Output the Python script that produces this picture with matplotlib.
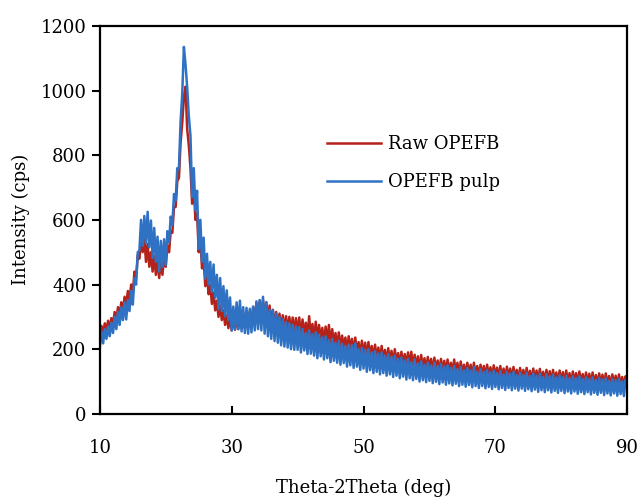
import numpy as np
import matplotlib
matplotlib.use("Agg")
import matplotlib.pyplot as plt

plt.rcParams['font.family'] = ['DejaVu Serif']

two_theta = np.linspace(10, 90, 321)

raw_opefb = [
    238, 272, 248, 280, 255, 288, 262, 296,
    278, 315, 290, 330, 302, 345, 318, 362,
    335, 380, 350, 400, 372, 440, 420, 490,
    480, 540, 500, 545, 470, 525, 455, 500,
    440, 488, 430, 478, 420, 470, 430, 488,
    455, 520, 500, 565, 560, 640, 640, 720,
    730, 840, 900, 980, 1012, 880, 830, 760,
    650, 700, 600, 620, 500, 540, 450, 470,
    395, 430, 370, 400, 340, 375, 320, 350,
    300, 335, 290, 320, 275, 305, 265, 300,
    258, 298, 260, 300, 262, 302, 265, 305,
    265, 310, 272, 318, 280, 330, 292, 342,
    300, 350, 305, 352, 300, 345, 290, 335,
    278, 322, 270, 315, 262, 310, 258, 305,
    255, 302, 252, 300, 250, 298, 248, 296,
    246, 298, 238, 292, 244, 282, 232, 302,
    235, 278, 228, 285, 224, 275, 230, 266,
    218, 270, 222, 275, 210, 262, 214, 250,
    205, 252, 200, 242, 204, 236, 192, 240,
    195, 232, 185, 236, 188, 222, 178, 226,
    182, 220, 172, 222, 176, 210, 166, 214,
    170, 205, 160, 210, 165, 198, 156, 203,
    160, 195, 150, 200, 155, 188, 147, 192,
    150, 185, 143, 190, 147, 192, 139, 183,
    142, 178, 135, 182, 139, 172, 132, 176,
    136, 170, 129, 174, 133, 165, 126, 170,
    130, 164, 123, 168, 127, 158, 121, 168,
    124, 158, 118, 162, 122, 152, 116, 158,
    120, 152, 113, 158, 118, 148, 112, 152,
    116, 148, 109, 152, 114, 144, 108, 150,
    112, 143, 106, 148, 110, 140, 104, 146,
    109, 140, 103, 145, 107, 136, 101, 142,
    106, 136, 100, 142, 104, 133, 98, 140,
    103, 134, 97, 139, 101, 130, 96, 136,
    100, 132, 95, 136, 98, 128, 93, 134,
    98, 129, 92, 134, 96, 126, 91, 131,
    96, 126, 90, 131, 94, 123, 89, 128,
    93, 124, 87, 128, 91, 120, 86, 125,
    91, 121, 85, 125, 89, 117, 84, 122,
    89, 118, 82, 122, 87, 114, 81, 116,
    100,
]

opefb_pulp = [
    205, 255, 218, 262, 232, 270, 240, 282,
    250, 300, 262, 315, 275, 330, 290, 345,
    292, 352, 318, 380, 338, 420, 400, 500,
    505, 600, 520, 612, 528, 625, 515, 598,
    482, 575, 470, 548, 440, 535, 455, 540,
    460, 565, 530, 610, 585, 680, 660, 760,
    760, 905, 990, 1135, 1080, 1010, 920, 860,
    670, 760, 630, 690, 510, 600, 470, 545,
    418, 495, 400, 470, 378, 462, 360, 430,
    325, 420, 318, 395, 302, 382, 290, 360,
    258, 332, 262, 345, 262, 350, 255, 330,
    250, 328, 248, 325, 252, 332, 258, 348,
    262, 352, 258, 362, 248, 345, 240, 322,
    232, 320, 225, 310, 220, 300, 212, 292,
    208, 284, 205, 280, 200, 275, 198, 270,
    198, 268, 190, 262, 196, 250, 185, 258,
    186, 246, 180, 252, 172, 245, 178, 236,
    168, 240, 172, 228, 160, 232, 164, 220,
    158, 226, 152, 216, 157, 210, 146, 214,
    150, 212, 142, 218, 146, 200, 136, 204,
    140, 198, 130, 200, 135, 190, 126, 194,
    130, 186, 122, 190, 126, 180, 118, 185,
    122, 176, 114, 180, 118, 170, 110, 174,
    115, 165, 106, 170, 110, 160, 104, 168,
    108, 156, 100, 162, 104, 152, 98, 158,
    102, 150, 95, 158, 99, 148, 92, 154,
    97, 146, 90, 150, 94, 142, 88, 148,
    93, 138, 86, 145, 90, 134, 84, 142,
    89, 134, 82, 145, 86, 130, 80, 138,
    86, 130, 79, 136, 83, 128, 77, 134,
    83, 126, 76, 132, 80, 122, 74, 130,
    80, 124, 73, 130, 78, 120, 72, 127,
    78, 120, 71, 127, 76, 117, 70, 125,
    75, 118, 68, 124, 73, 114, 67, 122,
    73, 116, 66, 121, 71, 112, 65, 119,
    71, 113, 64, 118, 69, 110, 63, 116,
    69, 110, 62, 116, 67, 107, 61, 113,
    67, 108, 60, 113, 65, 105, 59, 111,
    65, 106, 58, 110, 63, 102, 57, 108,
    63, 104, 56, 108, 61, 100, 55, 105,
    85,
]

series_names = ["Raw OPEFB", "OPEFB pulp"]
x_ticks = [10, 30, 50, 70, 90]
y_ticks = [0, 200, 400, 600, 800, 1000, 1200]

fig = plt.figure(figsize=(6.4, 4.98), dpi=100)
ax = fig.add_axes([0.156, 0.169, 0.824, 0.779])

ax.plot(two_theta, raw_opefb, color='#B52219', lw=1.8, label=series_names[0])
ax.plot(two_theta, opefb_pulp, color='#2F72C4', lw=1.8, label=series_names[1])

ax.set_xlim(10, 90)
ax.set_ylim(0, 1200)
ax.set_xticks(x_ticks)
ax.set_yticks(y_ticks)
ax.tick_params(axis='x', direction='in', length=6, width=1.5, labelsize=13, pad=18)
ax.tick_params(axis='y', direction='out', length=6, width=1.5, labelsize=13)
for s in ax.spines.values():
    s.set_linewidth(1.6)

ax.set_xlabel("Theta-2Theta (deg)", fontsize=13, labelpad=16)
ax.set_ylabel("Intensity (cps)", fontsize=13, labelpad=8)

leg = ax.legend(loc='upper left', bbox_to_anchor=(0.4, 0.76), frameon=False,
                fontsize=13, handlelength=3.0, handletextpad=0.35, labelspacing=1.1)

fig.savefig("out.png", dpi=100)
